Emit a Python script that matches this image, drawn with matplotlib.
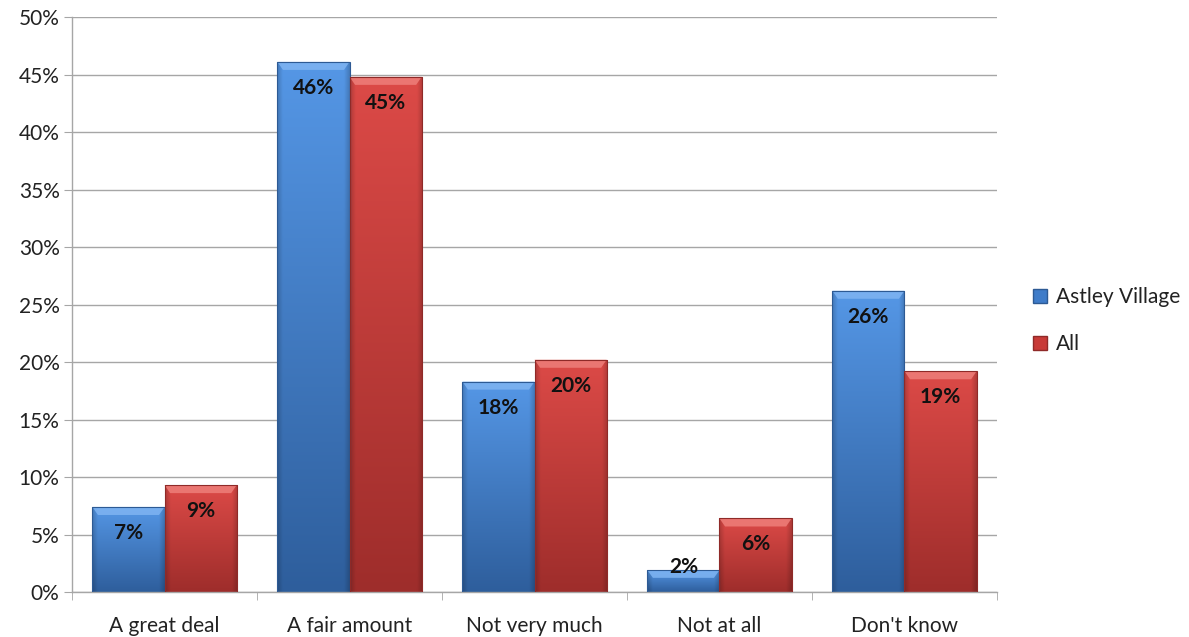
import numpy as np
import matplotlib
matplotlib.use("Agg")
import matplotlib.pyplot as plt
from matplotlib.patches import Rectangle, Polygon, Patch
from matplotlib.colors import to_rgb

categories = ["A great deal", "A fair amount", "Not very much", "Not at all", "Don't know"]
astley_village = [7.4, 46.1, 18.3, 1.9, 26.2]
all_respondents = [9.3, 44.8, 20.2, 6.4, 19.2]
series_names = ["Astley Village", "All"]
y_ticks = [0, 5, 10, 15, 20, 25, 30, 35, 40, 45, 50]

plt.rcParams['font.family'] = ['Lato', 'DejaVu Sans']

fig = plt.figure(figsize=(11.89, 6.37), dpi=100)
ax = fig.add_axes([0.0606, 0.0706, 0.7779, 0.9027])

bar_w = 0.39
x = np.arange(len(categories))

styles = [
    dict(top="#5597e6", bottom="#2e5e9c", bevel="#7fb4f2", edge="#2d5a94"),
    dict(top="#dc4a47", bottom="#9e2d2b", bevel="#ee7f7a", edge="#8f2a28"),
]


def gradient_bar(ax, x0, h, st):
    rect = Rectangle((x0, 0), bar_w, h, facecolor="none", edgecolor="none")
    ax.add_patch(rect)
    top = np.array(to_rgb(st["top"]))
    bot = np.array(to_rgb(st["bottom"]))
    ny, nx = 200, 60
    t = np.linspace(0, 1, ny)[:, None, None]
    img = top * (1 - t) + bot * t
    img = np.repeat(img, nx, axis=1)
    u = np.linspace(-1, 1, nx)
    side = 1 - 0.18 * np.clip((np.abs(u) - 0.85) / 0.15, 0, 1)
    img = img * side[None, :, None]
    im = ax.imshow(img, extent=(x0, x0 + bar_w, 0, h), origin="upper",
                   aspect="auto", zorder=2, interpolation="bilinear")
    im.set_clip_path(rect)
    # bevelled top edge
    bh = min(0.7, h * 0.35)
    inset = 0.03
    bevel = Polygon([(x0, h), (x0 + bar_w, h), (x0 + bar_w - inset, h - bh),
                     (x0 + inset, h - bh)], closed=True,
                    facecolor=st["bevel"], edgecolor="none", zorder=3, alpha=0.85)
    ax.add_patch(bevel)
    outline = Rectangle((x0, 0), bar_w, h, facecolor="none",
                        edgecolor=st["edge"], linewidth=0.8, zorder=4)
    ax.add_patch(outline)


# pixels per percentage point on the value axis
px_per_unit = 0.9027 * 637 / 50.0
label_drop_px = 26
min_label_center = 2.2

for i, series in enumerate([astley_village, all_respondents]):
    offset = -bar_w if i == 0 else 0.0
    for xi, v in zip(x, series):
        gradient_bar(ax, xi + offset, v, styles[i])
        y_lab = max(v - label_drop_px / px_per_unit, min_label_center)
        ax.text(xi + offset + bar_w / 2, y_lab, f"{v:.0f}%",
                ha="center", va="center", fontsize=15,
                fontweight="bold", color="#111111", zorder=5)

ax.set_xlim(-0.5, len(categories) - 0.5)
ax.set_ylim(0, 50)
ax.set_yticks(y_ticks)
ax.set_yticklabels([f"{t}%" for t in y_ticks], fontsize=15, color="#222222")
ax.yaxis.grid(True, color="#a6a6a6", linewidth=1.0, zorder=0)
ax.set_axisbelow(True)

ax.set_xticks(x)
ax.set_xticklabels(categories, fontsize=15, color="#222222")
ax.tick_params(axis="x", length=0, pad=17)
ax.set_xticks(np.arange(-0.5, len(categories)), minor=True)
ax.tick_params(axis="x", which="minor", length=6, color="#a6a6a6")
ax.tick_params(axis="y", length=6, color="#a6a6a6", pad=3)

for s in ["top", "right"]:
    ax.spines[s].set_visible(False)
for s in ["left", "bottom"]:
    ax.spines[s].set_color("#a6a6a6")
    ax.spines[s].set_linewidth(1.0)

handles = [Patch(facecolor="#3f7cc9", edgecolor="#2d5a94"),
           Patch(facecolor="#c83a37", edgecolor="#8f2a28")]
fig.legend(handles, series_names, loc="center left",
           bbox_to_anchor=(0.869, 0.497), frameon=False, fontsize=15,
           borderaxespad=0, borderpad=0,
           handlelength=0.65, handleheight=0.65, handletextpad=0.45,
           labelspacing=1.3, labelcolor="#222222")

fig.savefig("out.png", dpi=100)
